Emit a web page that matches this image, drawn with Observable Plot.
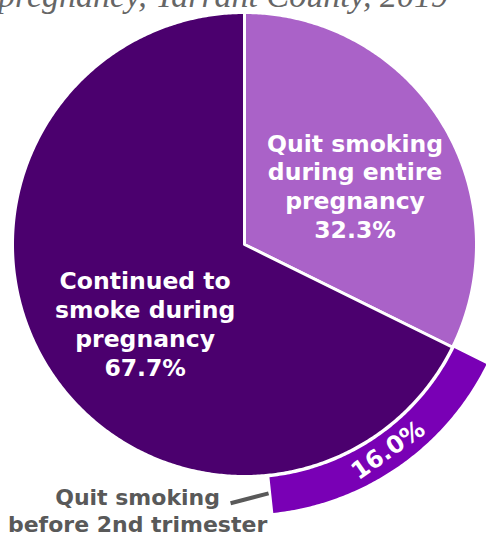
<!DOCTYPE html>
<html>
<head>
<meta charset="utf-8">
<script src="https://cdn.jsdelivr.net/npm/d3@7"></script>
<script src="https://cdn.jsdelivr.net/npm/@observablehq/plot@0.6"></script>
<style>
  html, body { margin: 0; padding: 0; background: #fff; }
  #wrap { position: relative; width: 486px; height: 533px; overflow: hidden; }
  #title {
    position: relative; height: 13px; width: 486px;
  }
  #title span {
    position: absolute; left: -2px; top: -21.5px; white-space: nowrap;
    font-family: "Liberation Serif", serif; font-style: italic;
    font-size: 34px; line-height: 34px; color: #666;
  }
</style>
</head>
<body>
<div id="wrap">
  <div id="title"><span>pregnancy, Tarrant County, 2019</span></div>
  <div id="chart"></div>
</div>
<script>
// Smoking status during pregnancy (percent of smokers)
const categories = ["Quit smoking during entire pregnancy", "Continued to smoke during pregnancy"];
const sliceLabels = ["Quit smoking\nduring entire\npregnancy", "Continued to\nsmoke during\npregnancy"];
const shares = [32.3, 67.7];
// Subgroup shown as an outer band, starting where the first slice ends
const subCategory = "Quit smoking before 2nd trimester";
const subLabel = "Quit smoking\nbefore 2nd trimester";
const subShare = 16.0;

const fmt = v => v.toFixed(1) + "%";
const deg = Math.PI / 180;
const pt = (angleDeg, r) => ({x: r * Math.sin(angleDeg * deg), y: r * Math.cos(angleDeg * deg)});

// Angles clockwise from 12 o'clock
const total = d3.sum(shares);
let acc = 0;
const slices = categories.map((key, i) => {
  const a0 = acc / total * 360;
  acc += shares[i];
  const a1 = acc / total * 360;
  return {key, label: sliceLabels[i], value: shares[i], a0, a1, mid: (a0 + a1) / 2};
});
const sub = (() => {
  const a0 = slices[0].a1;
  const a1 = a0 + subShare / total * 360;
  return {key: subCategory, value: subShare, a0, a1, mid: (a0 + a1) / 2};
})();

// Geometry in units of the pie radius
const R_PIE = 232 / 230.5;
const R_IN = 234 / 230.5, R_OUT = 270 / 230.5;
function arcPts(a0, a1, r) {
  const n = Math.max(2, Math.ceil(Math.abs(a1 - a0) / 0.5));
  return d3.range(n + 1).map(i => pt(a0 + (a1 - a0) * i / n, r));
}
const shapes = [];
for (const s of slices) {
  shapes.push({key: s.key, x: 0, y: 0});
  for (const p of arcPts(s.a0, s.a1, R_PIE)) shapes.push({key: s.key, ...p});
}
const bandShape = [...arcPts(sub.a0, sub.a1, R_OUT), ...arcPts(sub.a1, sub.a0, R_IN)]
  .map(p => ({key: sub.key, ...p}));

const labelOf = s => ({...pt(s.mid, s === slices[0] ? 0.49 : 0.556), text: s.label + "\n" + fmt(s.value)});
const bandLabel = {...pt(sub.mid, 1.089), text: fmt(sub.value), rotate: sub.mid - 180};
const leader = {from: pt(sub.a1 + 9.2, 1.124), to: pt(sub.a1 + 0.6, 1.085)};

const font = "DejaVu Sans, Verdana, sans-serif";
const W = 486, H = 520, Rpx = 230.5, cx = 244, cy = 231;
const chart = Plot.plot({
  width: W,
  height: H,
  margin: 0,
  x: {domain: [-cx / Rpx, (W - cx) / Rpx], axis: null},
  y: {domain: [-(H - cy) / Rpx, cy / Rpx], axis: null},
  color: {domain: [...categories, subCategory], range: ["#AA62C8", "#4B006E", "#7900B5"]},
  style: {background: "transparent", overflow: "visible"},
  marks: [
    Plot.line(shapes, {x: "x", y: "y", z: "key", fill: "key", stroke: "white", strokeWidth: 3, curve: "linear-closed"}),
    Plot.line(bandShape, {x: "x", y: "y", z: "key", fill: "key", stroke: "none", curve: "linear-closed"}),
    Plot.text([labelOf(slices[0])], {x: "x", y: "y", text: "text", dx: 14.6, dy: 0.8,
      fill: "white", fontSize: 23.5, fontWeight: "bold", fontFamily: font, lineHeight: 1.23}),
    Plot.text([labelOf(slices[1])], {x: "x", y: "y", text: "text", dx: 9.5, dy: 11.1,
      fill: "white", fontSize: 23.5, fontWeight: "bold", fontFamily: font, lineHeight: 1.23}),
    Plot.text([bandLabel], {x: "x", y: "y", text: "text", rotate: bandLabel.rotate,
      fill: "white", fontSize: 24, fontWeight: "bold", fontFamily: font}),
    Plot.link([leader], {x1: d => d.from.x, y1: d => d.from.y, x2: d => d.to.x, y2: d => d.to.y,
      stroke: "#595959", strokeWidth: 4}),
    Plot.text([{...leader.from, text: subLabel}], {x: "x", y: "y", text: "text", dx: -93, dy: 6.5,
      fill: "#595959", fontSize: 22, fontWeight: "bold", fontFamily: font, lineHeight: 1.227})
  ]
});
document.getElementById("chart").appendChild(chart);
</script>
</body>
</html>
